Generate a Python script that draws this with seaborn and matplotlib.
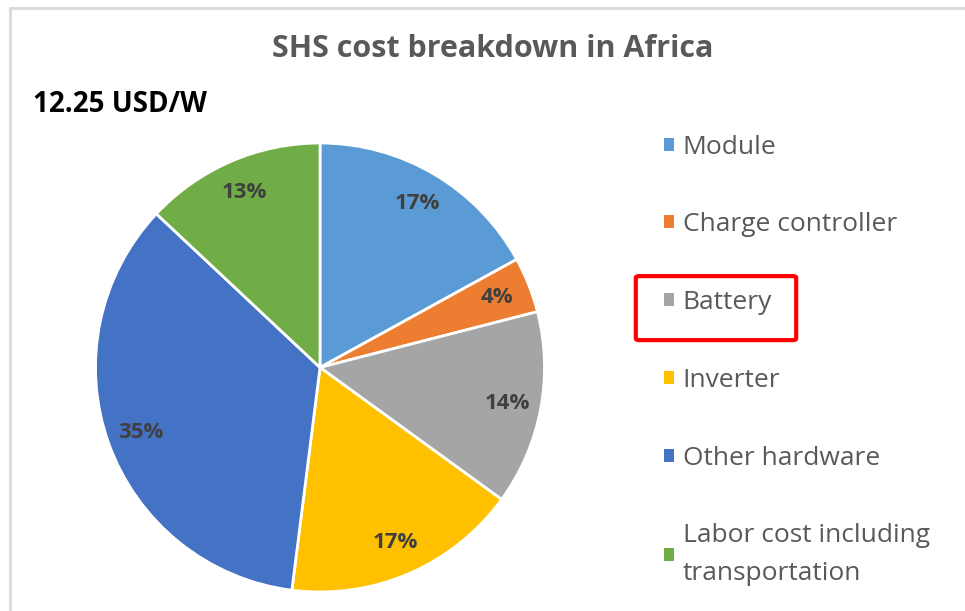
import matplotlib
matplotlib.use("Agg")
import matplotlib.pyplot as plt
import matplotlib.patches as mpatches
import seaborn as sns

# =========================================
# DATA
# =========================================

categories = [
    "Module",
    "Charge controller",
    "Battery",
    "Inverter",
    "Other hardware",
    "Labor cost including\ntransportation",
]
shares = [17, 4, 14, 17, 35, 13]
total_cost_label = "12.25 USD/W"
title = "SHS cost breakdown in Africa"
highlight = "Battery"

colors = ["#5B9BD5", "#ED7D31", "#A5A5A5", "#FFC000", "#4472C4", "#70AD47"]

# =========================================
# STYLE
# =========================================

sns.set_style("white")
sns.set_palette(colors)
plt.rcParams["font.family"] = ["Open Sans", "DejaVu Sans"]

fig = plt.figure(figsize=(9.65, 6.11), dpi=100)

# light frame like the Excel chart area
fig.add_artist(plt.Line2D([10 / 965, 1], [1 - 8 / 611, 1 - 8 / 611],
                          transform=fig.transFigure, color="#D9D9D9", lw=2))
fig.add_artist(plt.Line2D([10 / 965, 10 / 965], [0, 1 - 8 / 611],
                          transform=fig.transFigure, color="#D9D9D9", lw=2))

# =========================================
# PIE
# =========================================

ax = fig.add_axes([95 / 965, 19 / 611, 450 / 965, 449 / 611])

wedges, texts, autotexts = ax.pie(
    shares,
    colors=sns.color_palette(colors),
    startangle=90,
    counterclock=False,
    autopct="%1.0f%%",
    pctdistance=0.85,
    wedgeprops=dict(edgecolor="white", linewidth=2),
    textprops=dict(color="#404040", fontsize=16, fontweight="bold"),
)
ax.set_xlim(-1, 1)
ax.set_ylim(-1, 1)
ax.set_aspect("equal")

fig.text(493 / 965, 1 - 49 / 611, title, ha="center", va="center",
         fontsize=22, fontweight="bold", color="#595959")
fig.text(33 / 965, 1 - 104 / 611, total_cost_label, ha="left", va="center",
         fontsize=20, fontweight="bold", color="black")

# =========================================
# LEGEND
# =========================================

leg = fig.legend(
    wedges,
    categories,
    loc="upper left",
    bbox_to_anchor=(653 / 965, 1 - 124 / 611),
    frameon=False,
    fontsize=19,
    labelcolor="#595959",
    handlelength=0.38,
    handleheight=0.38,
    handletextpad=0.35,
    labelspacing=2.0,
    borderaxespad=0,
)
for h in leg.legend_handles:
    h.set_edgecolor("none")
for t in leg.get_texts():
    t.set_linespacing(1.65)

# red box around the highlighted entry
fig.canvas.draw()
idx = categories.index(highlight)
renderer = fig.canvas.get_renderer()
tb = leg.get_texts()[idx].get_window_extent(renderer)
inv = fig.transFigure.inverted()
x0, y0 = inv.transform((tb.x0 - 47, tb.y0 - 25))
x1, y1 = inv.transform((tb.x1 + 24, tb.y1 + 14))
fig.add_artist(mpatches.FancyBboxPatch(
    (x0, y0), x1 - x0, y1 - y0,
    boxstyle="round,pad=0,rounding_size=0.003",
    transform=fig.transFigure, fill=False, edgecolor="#FF0000", linewidth=3))

plt.savefig("out.png", dpi=100)
